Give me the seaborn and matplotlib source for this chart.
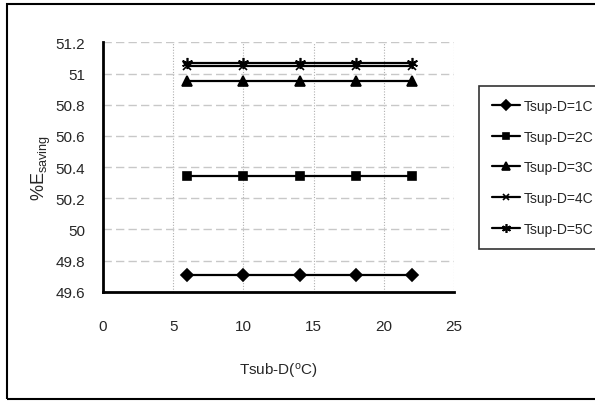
import pandas as pd
import matplotlib
matplotlib.use("Agg")
import matplotlib.pyplot as plt
import seaborn as sns
from matplotlib.patches import Rectangle

# data
tsub = [6, 10, 14, 18, 22]
series = ["Tsup-D=1C", "Tsup-D=2C", "Tsup-D=3C", "Tsup-D=4C", "Tsup-D=5C"]
e_1c = [49.71, 49.71, 49.71, 49.71, 49.71]
e_2c = [50.34, 50.34, 50.34, 50.34, 50.34]
e_3c = [50.95, 50.95, 50.95, 50.95, 50.95]
e_4c = [51.05, 51.05, 51.05, 51.05, 51.05]
e_5c = [51.07, 51.07, 51.07, 51.07, 51.07]

rows = []
for name, vals in zip(series, [e_1c, e_2c, e_3c, e_4c, e_5c]):
    for x, y in zip(tsub, vals):
        rows.append({"Tsub": x, "E": y, "series": name})
df = pd.DataFrame(rows)

sns.set_style("white")
plt.rcParams["font.family"] = ["Liberation Sans", "DejaVu Sans"]
plt.rcParams["mathtext.fontset"] = "custom"
plt.rcParams["mathtext.rm"] = "Liberation Sans"
plt.rcParams["mathtext.it"] = "Liberation Sans"

fig = plt.figure(figsize=(5.95, 4.02), dpi=100)
ax = fig.add_axes([0.173, 0.272, 0.590, 0.620])

markers = {"Tsup-D=1C": "D", "Tsup-D=2C": "s", "Tsup-D=3C": "^",
           "Tsup-D=4C": "x", "Tsup-D=5C": (6, 2, 0)}
sizes = {"Tsup-D=1C": 6, "Tsup-D=2C": 6, "Tsup-D=3C": 7,
         "Tsup-D=4C": 6, "Tsup-D=5C": 8}

for name in series:
    sub = df[df["series"] == name]
    sns.lineplot(data=sub, x="Tsub", y="E", ax=ax, color="black",
                 marker=markers[name], markersize=sizes[name],
                 markeredgecolor="black", markerfacecolor="black",
                 markeredgewidth=1.2, linewidth=1.6, label=name)

ax.set_xlim(0, 25)
ax.set_ylim(49.6, 51.2)
ax.set_xticks([0, 5, 10, 15, 20, 25])
ax.set_yticks([49.6, 49.8, 50, 50.2, 50.4, 50.6, 50.8, 51, 51.2])
ax.set_yticklabels(["49.6", "49.8", "50", "50.2", "50.4", "50.6", "50.8", "51", "51.2"])

ax.yaxis.grid(True, linestyle=(0, (6, 3)), color="#c8c8c8", linewidth=1)
ax.xaxis.grid(True, linestyle=(0, (1, 1.5)), color="#b0b0b0", linewidth=0.8)
ax.set_axisbelow(True)

for s in ["top", "right"]:
    ax.spines[s].set_visible(False)
for s in ["left", "bottom"]:
    ax.spines[s].set_linewidth(2)
    ax.spines[s].set_color("black")

ax.tick_params(axis="both", direction="out", length=5, width=1,
               labelsize=11, color="black", pad=8)
ax.tick_params(axis="x", pad=15)

ax.set_xlabel("Tsub-D($^{\\mathrm{o}}$C)", fontsize=11, labelpad=20)
ax.set_ylabel("%E$_{\\mathrm{saving}}$", fontsize=13)
ax.yaxis.set_label_coords(-0.142, 0.5)

handles, labels = ax.get_legend_handles_labels()
leg = ax.legend(handles, labels, loc="upper left",
                bbox_to_anchor=(0.805, 0.784), bbox_transform=fig.transFigure,
                frameon=True, fancybox=False, edgecolor="black",
                fontsize=10, labelspacing=1.2, handlelength=2.0,
                handletextpad=0.3, borderpad=0.95, borderaxespad=0,
                markerscale=0.8)
leg.get_frame().set_linewidth(1.2)

fig.patches.append(Rectangle((7 / 595, 2 / 402), 1.2, 395 / 402,
                             transform=fig.transFigure, fill=False,
                             edgecolor="black", linewidth=1.5))

fig.savefig("out.png", dpi=100)
